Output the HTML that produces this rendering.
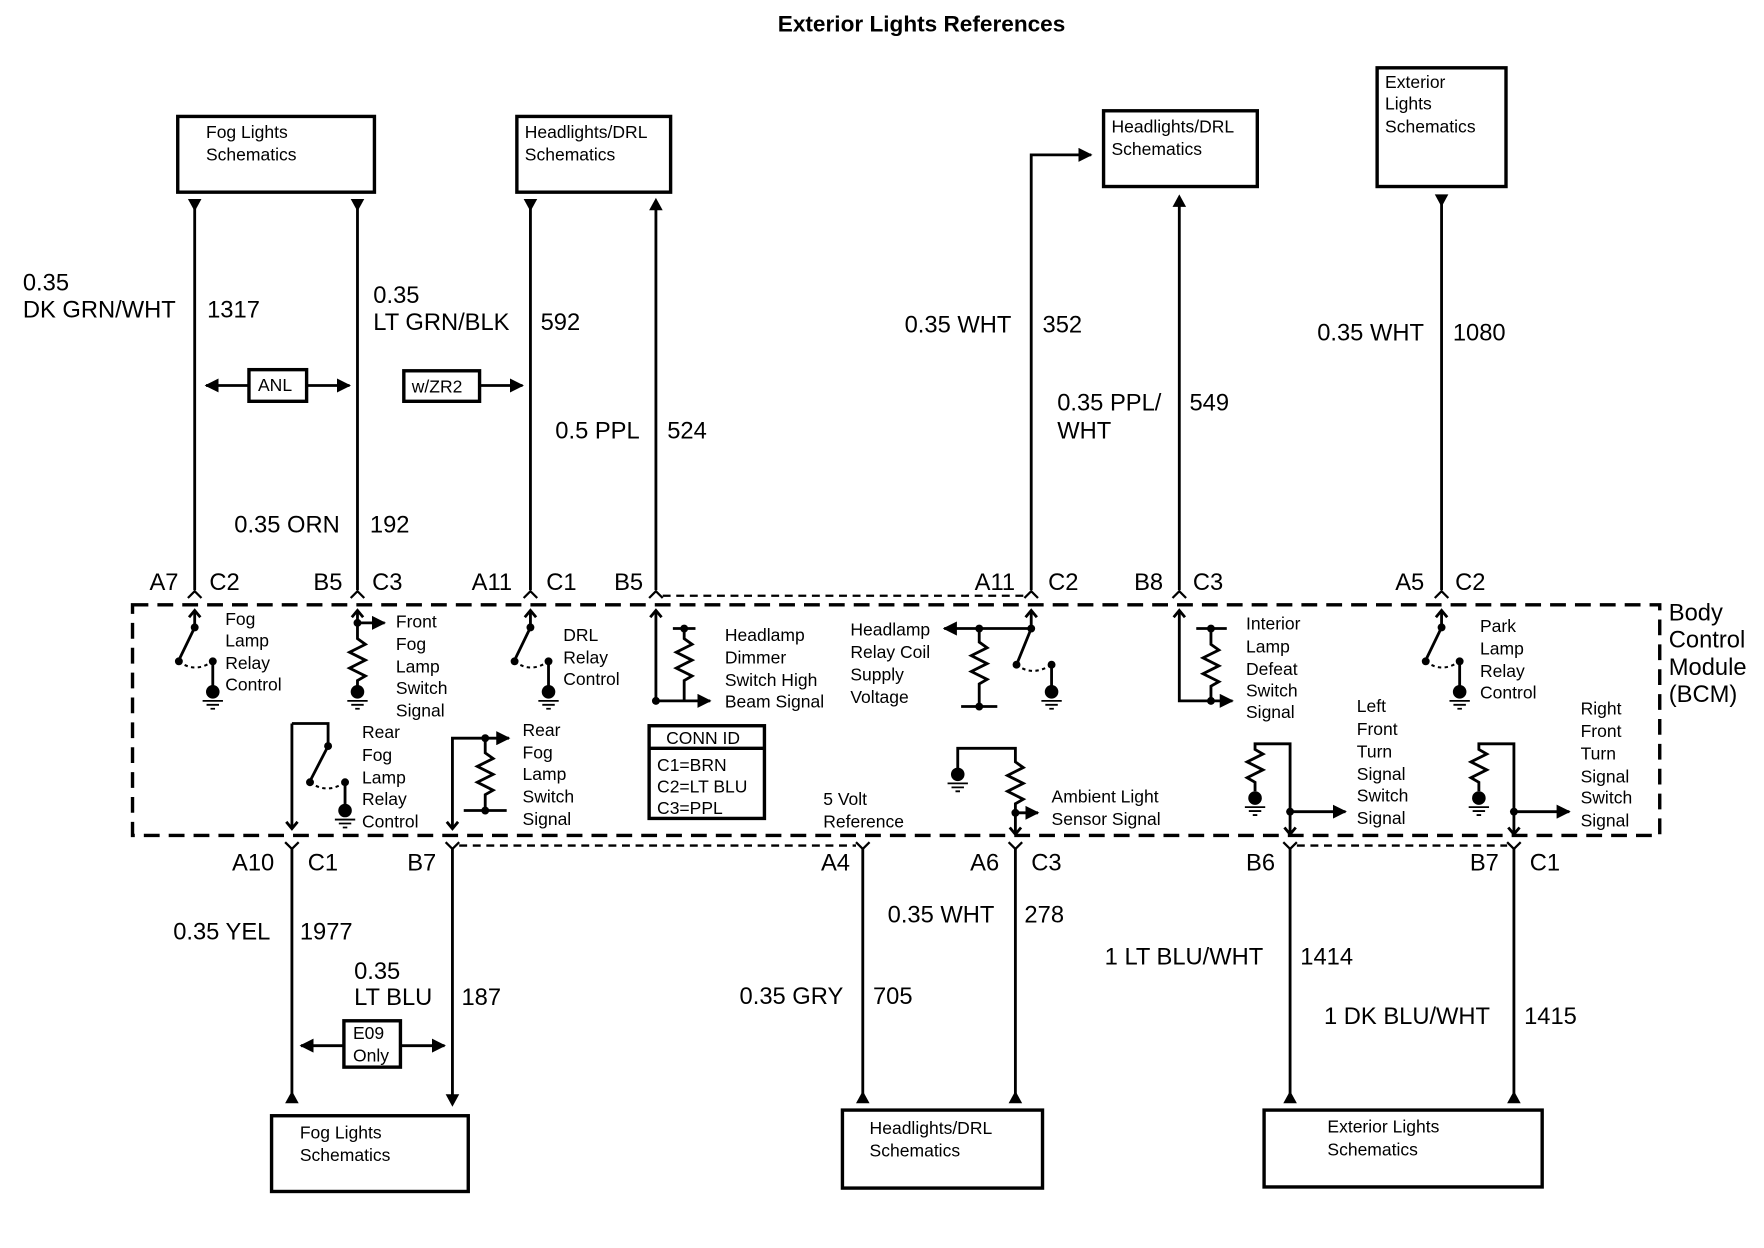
<!DOCTYPE html>
<html><head><meta charset="utf-8"><style>
html,body{margin:0;padding:0;background:#fff;}
svg{display:block;}
text{font-family:"Liberation Sans",Arial,sans-serif;fill:#000;}
.t{font-size:15.5px;}
.w{font-size:21px;}
</style></head><body>
<svg width="1764" height="1248" viewBox="0 0 1560 1104" xmlns="http://www.w3.org/2000/svg">
<defs>
<g id="gnd"><circle cx="0" cy="0" r="6" fill="#000"/><path d="M-9 8H9M-5.5 11.5H5.5M-2 15H2" stroke="#000" stroke-width="1.6"/></g>
<marker id="af" viewBox="0 0 10 10" refX="9" refY="5" markerWidth="5" markerHeight="5" orient="auto"><path d="M0 0L10 5L0 10z" fill="#000"/></marker>
</defs>
<rect width="1560" height="1104" fill="#fff"/>
<text x="815" y="28" text-anchor="middle" style="font-size:20px;font-weight:bold">Exterior Lights References</text>

<g fill="none" stroke="#000" stroke-width="3">
<rect x="157" y="103" width="174" height="67"/>
<rect x="457" y="103" width="136" height="67"/>
<rect x="976" y="98" width="136" height="67"/>
<rect x="1218" y="60" width="114" height="105"/>
<rect x="240" y="987" width="174" height="67"/>
<rect x="745" y="982" width="177" height="69"/>
<rect x="1118" y="982" width="246" height="68"/>
<rect x="220" y="327" width="51" height="28"/>
<rect x="357" y="328" width="67" height="27"/>
<rect x="304" y="903" width="50" height="41"/>
<rect x="574" y="642" width="102" height="82"/>
<path d="M574 662H676"/>
</g>
<g class="t">
<text x="182" y="122">Fog Lights</text><text x="182" y="142">Schematics</text>
<text x="464" y="122">Headlights/DRL</text><text x="464" y="142">Schematics</text>
<text x="983" y="117">Headlights/DRL</text><text x="983" y="137">Schematics</text>
<text x="1225" y="78">Exterior</text><text x="1225" y="97">Lights</text><text x="1225" y="117">Schematics</text>
<text x="265" y="1007">Fog Lights</text><text x="265" y="1027">Schematics</text>
<text x="769" y="1003">Headlights/DRL</text><text x="769" y="1023">Schematics</text>
<text x="1174" y="1002">Exterior Lights</text><text x="1174" y="1022">Schematics</text>
<text x="228" y="346">ANL</text><text x="364" y="347">w/ZR2</text>
<text x="312" y="919">E09</text><text x="312" y="939">Only</text>
<text x="589" y="658">CONN ID</text>
<text x="581" y="682">C1=BRN</text><text x="581" y="701">C2=LT BLU</text><text x="581" y="720">C3=PPL</text>
</g>

<!-- wires -->
<g fill="none" stroke="#000" stroke-width="2.5">
<path d="M172 180V522M316 180V522M469 180V522M580 180V522"/>
<path d="M912 522V137H965" marker-end="url(#af)"/>
<path d="M1043 175V522M1275 180V522"/>
<path d="M258 750V975M400 750V972M763 750V975M898 750V975M1141 750V975M1339 750V975"/>
<path d="M220 341H182" marker-end="url(#af)"/>
<path d="M271 341H309" marker-end="url(#af)"/>
<path d="M424 341H462" marker-end="url(#af)"/>
<path d="M304 925H266" marker-end="url(#af)"/>
<path d="M354 925H393" marker-end="url(#af)"/>
</g>
<g fill="#000">
<path d="M166 176h12l-6 11z"/><path d="M310 176h12l-6 11z"/><path d="M463 176h12l-6 11z"/>
<path d="M574 186h12l-6-11z"/><path d="M1037 183h12l-6-11z"/><path d="M1269 172h12l-6 11z"/>
<path d="M252 976h12l-6-11z"/><path d="M394 968h12l-6 11z"/><path d="M757 976h12l-6-11z"/>
<path d="M892 976h12l-6-11z"/><path d="M1135 976h12l-6-11z"/><path d="M1333 976h12l-6-11z"/>
</g>

<g class="w">
<text x="20" y="257">0.35</text><text x="20" y="281">DK GRN/WHT</text><text x="183" y="281">1317</text>
<text x="330" y="268">0.35</text><text x="330" y="292">LT GRN/BLK</text><text x="478" y="292">592</text>
<text x="491" y="388">0.5 PPL</text><text x="590" y="388">524</text>
<text x="207" y="471">0.35 ORN</text><text x="327" y="471">192</text>
<text x="800" y="294">0.35 WHT</text><text x="922" y="294">352</text>
<text x="935" y="363">0.35 PPL/</text><text x="935" y="388">WHT</text><text x="1052" y="363">549</text>
<text x="1165" y="301">0.35 WHT</text><text x="1285" y="301">1080</text>
<text x="153" y="831">0.35 YEL</text><text x="265" y="831">1977</text>
<text x="313" y="866">0.35</text><text x="313" y="889">LT BLU</text><text x="408" y="889">187</text>
<text x="785" y="816">0.35 WHT</text><text x="906" y="816">278</text>
<text x="654" y="888">0.35 GRY</text><text x="772" y="888">705</text>
<text x="977" y="853">1 LT BLU/WHT</text><text x="1150" y="853">1414</text>
<text x="1171" y="906">1 DK BLU/WHT</text><text x="1348" y="906">1415</text>
<text x="132" y="522">A7</text><text x="185" y="522">C2</text>
<text x="277" y="522">B5</text><text x="329" y="522">C3</text>
<text x="417" y="522">A11</text><text x="483" y="522">C1</text>
<text x="543" y="522">B5</text>
<text x="862" y="522">A11</text><text x="927" y="522">C2</text>
<text x="1003" y="522">B8</text><text x="1055" y="522">C3</text>
<text x="1234" y="522">A5</text><text x="1287" y="522">C2</text>
<text x="205" y="770">A10</text><text x="272" y="770">C1</text>
<text x="360" y="770">B7</text>
<text x="726" y="770">A4</text>
<text x="858" y="770">A6</text><text x="912" y="770">C3</text>
<text x="1102" y="770">B6</text>
<text x="1300" y="770">B7</text><text x="1353" y="770">C1</text>
<text x="1476" y="549">Body</text><text x="1476" y="573">Control</text><text x="1476" y="597">Module</text><text x="1476" y="621">(BCM)</text>
</g>

<g fill="none" stroke="#000" stroke-width="2">
<path d="M166 529l6-6 6 6M310 529l6-6 6 6M463 529l6-6 6 6M574 529l6-6 6 6M906 529l6-6 6 6M1037 529l6-6 6 6M1269 529l6-6 6 6"/>
<path d="M252 745l6 6 6-6M394 745l6 6 6-6M757 745l6 6 6-6M892 745l6 6 6-6M1135 745l6 6 6-6M1333 745l6 6 6-6"/>
</g>
<rect x="117" y="535" width="1351" height="204" fill="none" stroke="#000" stroke-width="3" stroke-dasharray="14 8"/>
<g stroke="#000" stroke-width="2" stroke-dasharray="7 5" fill="none">
<path d="M586 527H906M406 748H757M1147 748H1333"/>
</g>

<g fill="none" stroke="#000" stroke-width="2.5">
<path d="M167 546l5-6 5 6M311 546l5-6 5 6M464 546l5-6 5 6M575 546l5-6 5 6M907 546l5-6 5 6M1038 546l5-6 5 6M1270 546l5-6 5 6"/>
<path d="M172 540V555L158 584"/>
<path d="M188 585V611"/>
<path d="M316 540V551H340" marker-end="url(#af)"/>
<path d="M316 551V565l7 5-14 7 14 7-14 7 14 7-7 4V612"/>
<path d="M469 540V555L455 584"/>
<path d="M485 585V611"/>
<path d="M580 540V620H628" marker-end="url(#af)"/>
<path d="M595 556H615M605 556V565l7 5-14 7 14 7-14 7 14 7-7 4V620"/>
<path d="M912 540V556H835" marker-end="url(#af)"/>
<path d="M912 556L899 588M930 588V611"/>
<path d="M866 556V568l7 5-14 7 14 7-14 7 14 7-7 4V625M850 625H882"/>
<path d="M1043 540V620H1090" marker-end="url(#af)"/>
<path d="M1058 556H1085M1071 556V570l7 5-14 7 14 7-14 7 14 7-7 4V620"/>
<path d="M1275 540V555L1261 584M1291 585V611"/>
<path d="M258 640H290V660L274 691M305 692V717"/>
<path d="M258 640V733M253 727l5 6 5-6"/>
<path d="M400 733V653H450" marker-end="url(#af)"/>
<path d="M395 727l5 6 5-6"/>
<path d="M429 653V666l7 5-14 7 14 7-14 7 14 7-7 4V717M410 717H448"/>
<path d="M847 682V662H898V674l7 5-14 7 14 7-14 7 14 7-7 4V738M893 732l5 6 5-6"/>
<path d="M898 719H918" marker-end="url(#af)"/>
<path d="M1110 700V692l-7-4 14-7-14-7 14-7-7-4V658H1141V738M1136 732l5 6 5-6"/>
<path d="M1141 718H1190" marker-end="url(#af)"/>
<path d="M1308 700V692l-7-4 14-7-14-7 14-7-7-4V658H1339V738M1334 732l5 6 5-6"/>
<path d="M1339 718H1388" marker-end="url(#af)"/>
</g>
<g fill="none" stroke="#000" stroke-width="1.8" stroke-dasharray="3 3">
<path d="M158 585Q172 596 188 585M455 585Q469 596 485 585M899 588Q913 599 930 588M1261 585Q1275 596 1291 585M274 692Q289 703 305 692"/>
</g>
<g fill="#000">
<circle cx="172" cy="555" r="3.5"/><circle cx="158" cy="585" r="3.5"/><circle cx="188" cy="585" r="3.5"/>
<circle cx="316" cy="551" r="3.5"/><circle cx="469" cy="555" r="3.5"/><circle cx="455" cy="585" r="3.5"/><circle cx="485" cy="585" r="3.5"/>
<circle cx="580" cy="620" r="3.5"/><circle cx="605" cy="556" r="3.5"/>
<circle cx="912" cy="556" r="3.5"/><circle cx="866" cy="556" r="3.5"/><circle cx="866" cy="625" r="3.5"/><circle cx="899" cy="588" r="3.5"/><circle cx="930" cy="588" r="3.5"/>
<circle cx="1071" cy="556" r="3.5"/><circle cx="1071" cy="620" r="3.5"/>
<circle cx="1275" cy="555" r="3.5"/><circle cx="1261" cy="585" r="3.5"/><circle cx="1291" cy="585" r="3.5"/>
<circle cx="290" cy="660" r="3.5"/><circle cx="274" cy="692" r="3.5"/><circle cx="305" cy="692" r="3.5"/>
<circle cx="429" cy="653" r="3.5"/><circle cx="429" cy="717" r="3.5"/>
<circle cx="898" cy="719" r="3.5"/><circle cx="1141" cy="718" r="3.5"/><circle cx="1339" cy="718" r="3.5"/>
</g>
<use href="#gnd" x="188" y="612"/><use href="#gnd" x="316" y="612"/><use href="#gnd" x="485" y="612"/>
<use href="#gnd" x="930" y="612"/><use href="#gnd" x="1291" y="612"/><use href="#gnd" x="305" y="717"/>
<use href="#gnd" x="847" y="685"/><use href="#gnd" x="1110" y="706"/><use href="#gnd" x="1308" y="706"/>

<g class="t">
<text x="199" y="553">Fog</text><text x="199" y="572">Lamp</text><text x="199" y="592">Relay</text><text x="199" y="611">Control</text>
<text x="350" y="555">Front</text><text x="350" y="575">Fog</text><text x="350" y="595">Lamp</text><text x="350" y="614">Switch</text><text x="350" y="634">Signal</text>
<text x="498" y="567">DRL</text><text x="498" y="587">Relay</text><text x="498" y="606">Control</text>
<text x="641" y="567">Headlamp</text><text x="641" y="587">Dimmer</text><text x="641" y="607">Switch High</text><text x="641" y="626">Beam Signal</text>
<text x="752" y="562">Headlamp</text><text x="752" y="582">Relay Coil</text><text x="752" y="602">Supply</text><text x="752" y="622">Voltage</text>
<text x="1102" y="557">Interior</text><text x="1102" y="577">Lamp</text><text x="1102" y="597">Defeat</text><text x="1102" y="616">Switch</text><text x="1102" y="635">Signal</text>
<text x="1309" y="559">Park</text><text x="1309" y="579">Lamp</text><text x="1309" y="599">Relay</text><text x="1309" y="618">Control</text>
<text x="320" y="653">Rear</text><text x="320" y="673">Fog</text><text x="320" y="693">Lamp</text><text x="320" y="712">Relay</text><text x="320" y="732">Control</text>
<text x="462" y="651">Rear</text><text x="462" y="671">Fog</text><text x="462" y="690">Lamp</text><text x="462" y="710">Switch</text><text x="462" y="730">Signal</text>
<text x="728" y="712">5 Volt</text><text x="728" y="732">Reference</text>
<text x="930" y="710">Ambient Light</text><text x="930" y="730">Sensor Signal</text>
<text x="1200" y="630">Left</text><text x="1200" y="650">Front</text><text x="1200" y="670">Turn</text><text x="1200" y="690">Signal</text><text x="1200" y="709">Switch</text><text x="1200" y="729">Signal</text>
<text x="1398" y="632">Right</text><text x="1398" y="652">Front</text><text x="1398" y="672">Turn</text><text x="1398" y="692">Signal</text><text x="1398" y="711">Switch</text><text x="1398" y="731">Signal</text>
</g>
</svg>
</body></html>
